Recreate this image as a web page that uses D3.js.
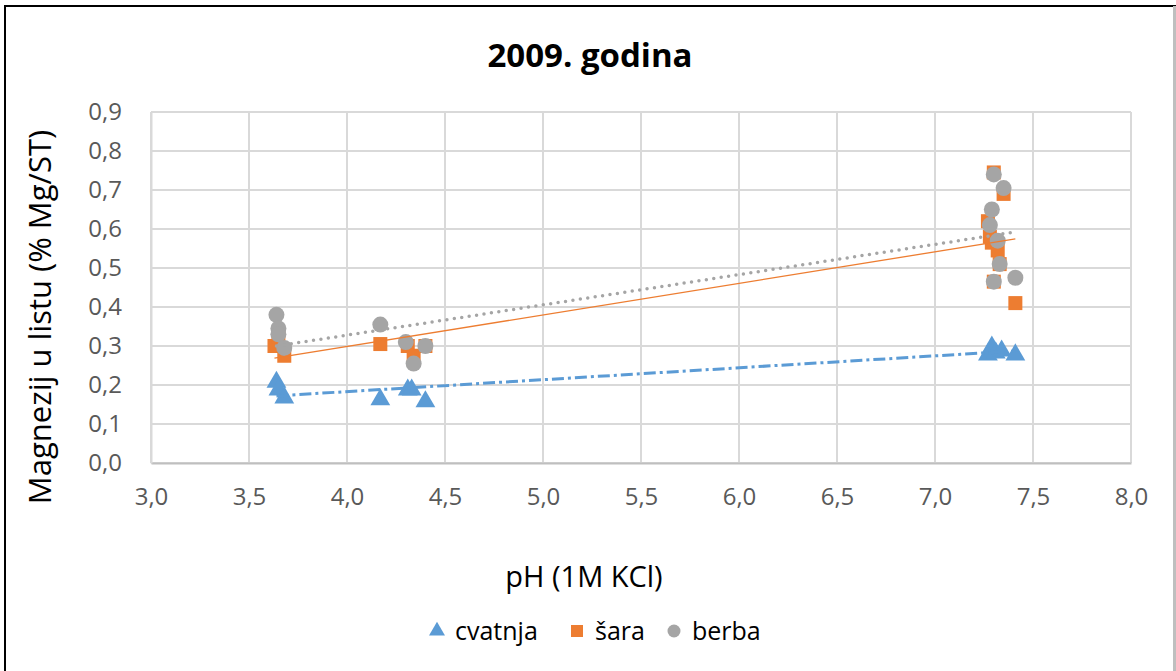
<!DOCTYPE html>
<html>
<head>
<meta charset="utf-8">
<script src="https://cdn.jsdelivr.net/npm/d3@7"></script>
<style>
  body { margin: 0; background: #fff; }
  svg { display: block; font-family: "Open Sans", "Liberation Sans", sans-serif; }
</style>
</head>
<body>
<svg id="chart" width="1176" height="671"></svg>
<script>
// pH values and Mg content
const cvatnjaX = [3.64, 3.65, 3.68, 4.17, 4.31, 4.33, 4.40, 7.27, 7.29, 7.31, 7.34, 7.41];
const cvatnjaY = [0.21, 0.19, 0.17, 0.165, 0.19, 0.19, 0.16, 0.28, 0.30, 0.285, 0.29, 0.28];

const saraX = [3.63, 3.65, 3.68, 4.17, 4.31, 4.34, 4.40, 7.30, 7.35, 7.27, 7.28, 7.29, 7.32, 7.33, 7.30, 7.41];
const saraY = [0.30, 0.325, 0.275, 0.305, 0.30, 0.275, 0.30, 0.745, 0.69, 0.62, 0.58, 0.565, 0.545, 0.51, 0.465, 0.41];

const berbaX = [3.64, 3.65, 3.65, 3.68, 4.17, 4.30, 4.34, 4.40, 7.30, 7.35, 7.29, 7.28, 7.32, 7.33, 7.30, 7.41];
const berbaY = [0.38, 0.345, 0.33, 0.295, 0.355, 0.31, 0.255, 0.30, 0.74, 0.705, 0.65, 0.61, 0.57, 0.51, 0.465, 0.475];

const xTicks = [3.0, 3.5, 4.0, 4.5, 5.0, 5.5, 6.0, 6.5, 7.0, 7.5, 8.0];
const yTicks = [0.0, 0.1, 0.2, 0.3, 0.4, 0.5, 0.6, 0.7, 0.8, 0.9];

const seriesNames = ["cvatnja", "šara", "berba"];
const seriesColors = ["#5b9bd5", "#ed7d31", "#a5a5a5"];

const svg = d3.select("#chart");
const W = 1176, H = 671;
const margin = { top: 112, right: 45, bottom: 208, left: 151 };
const width = W - margin.left - margin.right;
const height = H - margin.top - margin.bottom;

// outer frame
svg.append("rect").attr("x", 5).attr("y", 6).attr("width", W - 6).attr("height", H)
  .attr("fill", "#fff").attr("stroke", "#000").attr("stroke-width", 2);
svg.append("line").attr("x1", W - 1.5).attr("x2", W - 1.5).attr("y1", 6).attr("y2", H)
  .attr("stroke", "#bfbfbf").attr("stroke-width", 3);

const x = d3.scaleLinear().domain([3, 8]).range([0, width]);
const y = d3.scaleLinear().domain([0, 0.9]).range([height, 0]);
const fmt = d => d3.format(".1f")(d).replace(".", ",");

const g = svg.append("g").attr("transform", `translate(${margin.left},${margin.top})`);

// gridlines
g.append("g").selectAll("line").data(yTicks).join("line")
  .attr("x1", 0).attr("x2", width)
  .attr("y1", d => y(d)).attr("y2", d => y(d))
  .attr("stroke", "#d9d9d9").attr("stroke-width", 2);
g.append("g").selectAll("line").data(xTicks).join("line")
  .attr("x1", d => x(d)).attr("x2", d => x(d))
  .attr("y1", 0).attr("y2", height)
  .attr("stroke", "#d9d9d9").attr("stroke-width", 2);

// axes
const xAxis = g.append("g").attr("transform", `translate(0,${height})`)
  .call(d3.axisBottom(x).tickValues(xTicks).tickFormat(fmt).tickSize(0).tickPadding(25));
const yAxis = g.append("g")
  .call(d3.axisLeft(y).tickValues(yTicks).tickFormat(fmt).tickSize(0).tickPadding(29));
[xAxis, yAxis].forEach(a => {
  a.select(".domain").attr("stroke", "#bfbfbf").attr("stroke-width", 2);
  a.selectAll("text").attr("fill", "#595959").attr("font-size", 24)
    .attr("font-family", "\"Open Sans\", sans-serif");
});
yAxis.select(".domain").attr("stroke", "#d9d9d9");

// trend lines (least squares)
function fit(xs, ys) {
  const mx = d3.mean(xs), my = d3.mean(ys);
  let sxy = 0, sxx = 0;
  xs.forEach((v, i) => { sxy += (v - mx) * (ys[i] - my); sxx += (v - mx) * (v - mx); });
  const b = sxy / sxx;
  return v => my + b * (v - mx);
}
const series = [
  { xs: cvatnjaX, ys: cvatnjaY, dash: "12,4,3,4", w: 3, cap: "butt" },
  { xs: saraX, ys: saraY, dash: null, w: 1.3, cap: "butt" },
  { xs: berbaX, ys: berbaY, dash: "0,7.5", w: 3.5, cap: "round" }
];

// markers
const tri = d3.symbol().type(d3.symbolTriangle).size(170);
series.forEach((s, k) => {
  const pts = s.xs.map((v, i) => [v, s.ys[i]]);
  const m = g.append("g");
  if (k === 0) {
    m.selectAll("path").data(pts).join("path").attr("d", tri)
      .attr("transform", d => `translate(${x(d[0])},${y(d[1]) + 1})`)
      .attr("fill", seriesColors[k]);
  } else if (k === 1) {
    m.selectAll("rect").data(pts).join("rect")
      .attr("x", d => x(d[0]) - 7).attr("y", d => y(d[1]) - 7)
      .attr("width", 14).attr("height", 14).attr("fill", seriesColors[k]);
  } else {
    m.selectAll("circle").data(pts).join("circle")
      .attr("cx", d => x(d[0])).attr("cy", d => y(d[1])).attr("r", 8)
      .attr("fill", seriesColors[k]);
  }
});
series.forEach((s, k) => {
  const f = fit(s.xs, s.ys);
  const x0 = d3.min(s.xs), x1 = d3.max(s.xs);
  g.append("line")
    .attr("x1", x(x0)).attr("y1", y(f(x0)))
    .attr("x2", x(x1)).attr("y2", y(f(x1)))
    .attr("stroke", seriesColors[k]).attr("stroke-width", s.w)
    .attr("stroke-dasharray", s.dash)
    .attr("stroke-linecap", s.cap);
});

// title and axis titles
svg.append("text").attr("x", 590).attr("y", 67).attr("text-anchor", "middle")
  .attr("font-size", 33).attr("font-weight", "bold").attr("fill", "#000")
  .text("2009. godina");
svg.append("text").attr("x", 584).attr("y", 587).attr("text-anchor", "middle")
  .attr("font-size", 29).attr("fill", "#000").text("pH (1M KCl)");
svg.append("text").attr("transform", "translate(51,317) rotate(-90)")
  .attr("text-anchor", "middle").attr("font-size", 31).attr("fill", "#000")
  .text("Magnezij u listu (% Mg/ST)");

// legend
const legend = svg.append("g").attr("transform", "translate(0,631)");
const legendX = [437, 577, 674];
seriesNames.forEach((name, k) => {
  const lg = legend.append("g").attr("transform", `translate(${legendX[k]},0)`);
  if (k === 0) lg.append("path").attr("d", d3.symbol().type(d3.symbolTriangle).size(110)).attr("fill", seriesColors[k]);
  else if (k === 1) lg.append("rect").attr("x", -6).attr("y", -6).attr("width", 12).attr("height", 12).attr("fill", seriesColors[k]);
  else lg.append("circle").attr("r", 6.5).attr("fill", seriesColors[k]);
  lg.append("text").attr("x", 18).attr("y", 9).attr("font-size", 25).attr("fill", "#000").text(name);
});
</script>
</body>
</html>
